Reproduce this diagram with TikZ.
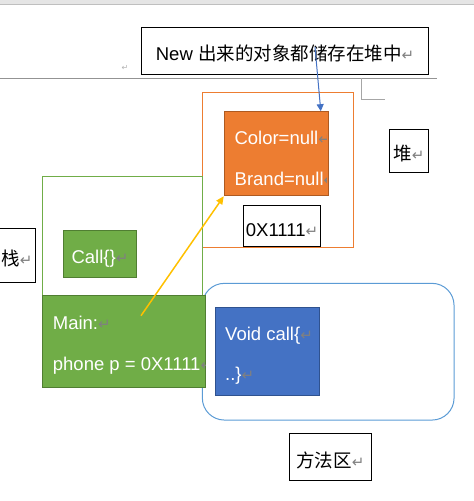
\documentclass[tikz,border=0pt]{standalone}
\usepackage{fontspec}
\setmainfont{Liberation Sans}
\newfontfamily\cjk{Noto Sans CJK SC}
\newfontfamily\symfont{DejaVu Sans}
\usetikzlibrary{positioning, arrows.meta}
\definecolor{heaporange}{HTML}{ED7D31}
\definecolor{heapedge}{HTML}{AE5A21}
\definecolor{stackgreen}{HTML}{70AD47}
\definecolor{stackedge}{HTML}{507E32}
\definecolor{methodblue}{HTML}{4472C4}
\definecolor{methodedge}{HTML}{2F528F}
\definecolor{areablue}{HTML}{5B9BD5}
\definecolor{arrowyellow}{HTML}{FFC000}
\newcommand{\retmark}{{\symfont\fontsize{15}{15}\selectfont\textcolor{gray}{↵}}}

\begin{document}
\begin{tikzpicture}[x=1pt, y=-1pt,
  font=\fontsize{18.5}{22}\selectfont,
  plainbox/.style={rectangle, draw=black, line width=1pt, inner sep=0pt, text height=20pt, text depth=0pt},
  fillbox/.style={rectangle, line width=1pt, inner sep=0pt, text=white, text height=20pt, text depth=0pt},
  boxline/.style={anchor=base west, inner sep=0pt, text=white},
  region/.style={rectangle, line width=1pt, inner sep=0pt}
]
  \useasboundingbox (0,0) rectangle (474,501);

  % page header and rule
  \fill[gray!20] (0,0) rectangle (474,4);
  \draw[gray!50, line width=1.2pt] (0,4.6) -- (474,4.6);
  \draw[gray!85, line width=0.8pt] (0,78) -- (437,78);
  \draw[gray!70, line width=0.8pt] (361.7,78) |- (385,99.3);
  \node[inner sep=0pt, font=\fontsize{8}{8}\selectfont] (parmark) at (125,68) {{\symfont\textcolor{gray!60}{↵}}};

  % heap
  \node[region, draw=heaporange, minimum width=151pt, minimum height=155pt] (heap) at (277.5,170) {};
  \node[fillbox, fill=heaporange, draw=heapedge, minimum width=104pt, minimum height=84pt] (obj) at (276.3,153.7) {};
  \begin{scope}
    \clip ([xshift=-2pt]obj.south east) rectangle (obj.north west);
    \node[boxline] (objcolor) at (234.3,144) {Color=null\retmark};
    \node[boxline] (objbrand) at (234.5,185) {Brand=null\retmark};
  \end{scope}
  \node[plainbox, minimum width=77.5pt, minimum height=40.5pt] (addr) at (282,226) {0X1111\retmark};
  \node[plainbox, minimum width=39.5pt, minimum height=42.7pt] (heaplabel) at (409,150.7) {{\cjk 堆}\retmark};

  % stack
  \node[region, draw=stackgreen, minimum width=160pt, minimum height=120pt] (stack) at (122.3,236.5) {};
  \node[fillbox, fill=stackgreen, draw=stackedge, minimum width=73.4pt, minimum height=47pt] (call) at (100,253.8) {Call\{\}\retmark};
  \node[plainbox, minimum width=37pt, minimum height=54pt] (stacklabel) at (17,255.3) {{\cjk 栈}\retmark};

  % method area
  \node[region, draw=areablue, rounded corners=22pt, minimum width=251.7pt, minimum height=136.7pt] (method) at (328.2,351.7) {};
  \node[fillbox, fill=methodblue, draw=methodedge, minimum width=104.4pt, minimum height=88.4pt] (voidbox) at (267.5,351.5) {};
  \node[boxline] (voidhead) at (225,340) {Void call\{\retmark};
  \node[boxline] (voidtail) at (225,380.5) {..\}\retmark};
  \node[plainbox, minimum width=82.4pt, minimum height=47.4pt] (methodlabel) at (330.5,457) {{\cjk 方法区}\retmark};

  % main frame
  \node[fillbox, fill=stackgreen, draw=stackedge, minimum width=163.4pt, minimum height=91.6pt] (main) at (124,341.5) {};
  \begin{scope}
    \clip ([xshift=-1pt]main.south east) rectangle (main.north west);
    \node[boxline] (mainhead) at (52.7,329) {Main:\retmark};
    \node[boxline] (mainvar) at (52.7,370) {phone p = 0X1111\retmark};
  \end{scope}

  % note
  \node[plainbox, minimum width=286.6pt, minimum height=46.7pt] (note) at (285,50.7) {New {\cjk 出来的对象都储存在堆中}\retmark};

  % pointers
  \coordinate (notetail) at (315,47);
  \coordinate (maintail) at (141,315.7);
  \draw[-{Triangle[length=7pt, width=7pt]}, methodblue, line width=1pt] (notetail) -- ([xshift=-8pt]obj.north east);
  \draw[-{Triangle[length=8pt, width=7pt]}, arrowyellow, line width=1.5pt] (maintail) -- (obj.south west);
\end{tikzpicture}
\end{document}
